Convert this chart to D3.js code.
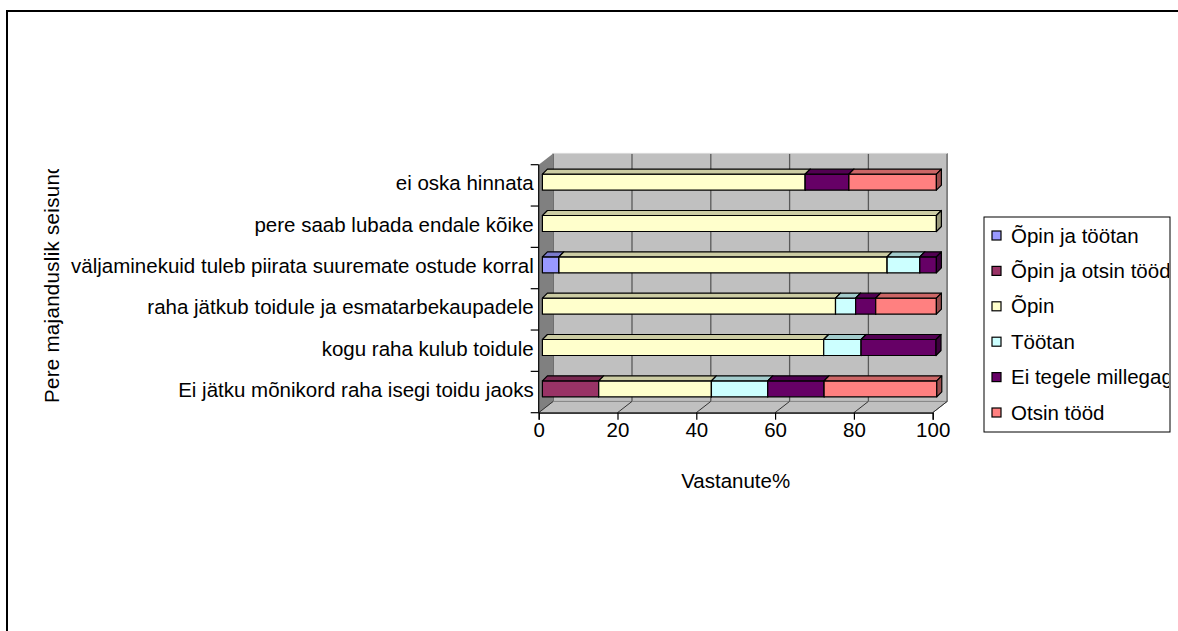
<!DOCTYPE html>
<html><head><meta charset="utf-8">
<script src="https://cdn.jsdelivr.net/npm/d3@7"></script>
<style>html,body{margin:0;padding:0;background:#fff;}svg{display:block;font-family:"Liberation Sans",Arial,sans-serif;}</style>
</head><body>
<script>
const categories = [
  "ei oska hinnata",
  "pere saab lubada endale kõike",
  "väljaminekuid tuleb piirata suuremate ostude korral",
  "raha jätkub toidule ja esmatarbekaupadele",
  "kogu raha kulub toidule",
  "Ei jätku mõnikord raha isegi toidu jaoks"
];
const seriesNames = ["Õpin ja töötan","Õpin ja otsin tööd","Õpin","Töötan","Ei tegele millegagi","Otsin tööd"];
const seriesColors = ["#9999FF","#993366","#FFFFCC","#CCFFFF","#660066","#FF8080"];
const opinJaTootan = [0, 0, 4.2, 0, 0, 0];
const opinJaOtsin  = [0, 0, 0, 0, 0, 14.3];
const opin         = [66.7, 100, 83.3, 74.4, 71.4, 28.6];
const tootan       = [0, 0, 8.3, 5.1, 9.5, 14.3];
const eiTegele     = [11.1, 0, 4.2, 5.1, 19.0, 14.3];
const otsinTood    = [22.2, 0, 0, 15.4, 0, 28.6];
const xTicks = [0, 20, 40, 60, 80, 100];
const xTitle = "Vastanute%";
const yTitle = "Pere majanduslik seisund";

const seriesValues = [opinJaTootan, opinJaOtsin, opin, tootan, eiTegele, otsinTood];
const table = categories.map((c, i) => {
  const row = {cat: c};
  seriesNames.forEach((s, j) => row[s] = seriesValues[j][i]);
  return row;
});

const W = 1178, H = 631;
const svg = d3.select("body").append("svg").attr("width", W).attr("height", H);

const x = d3.scaleLinear().domain([0, 100]).range([538.7, 932.7]);
const y = d3.scaleBand().domain(categories).range([164.7, 412.7]).padding(0);
const DX = 14.5, DY = -11.3;
const yTop = y.range()[0], yBot = y.range()[1];

// outer border (top & left visible)
svg.append("path").attr("d", `M7,${H} V11 H${W}`).attr("fill", "none").attr("stroke", "#000").attr("stroke-width", 2);

// back wall
svg.append("rect").attr("x", x(0) + DX).attr("y", yTop + DY).attr("width", x(100) - x(0)).attr("height", yBot - yTop).attr("fill", "#C0C0C0");
svg.selectAll(".grid").data(xTicks).enter().append("line")
  .attr("x1", d => x(d) + DX).attr("x2", d => x(d) + DX)
  .attr("y1", yTop + DY).attr("y2", yBot + DY)
  .attr("stroke", "#5a5a5a").attr("stroke-width", 1.3);
svg.append("line").attr("x1", x(100) + DX).attr("x2", x(100) + DX).attr("y1", yTop + DY).attr("y2", yBot + DY).attr("stroke", "#808080").attr("stroke-width", 1.5);
svg.append("line").attr("x1", x(0) + DX).attr("x2", x(100) + DX).attr("y1", yTop + DY).attr("y2", yTop + DY).attr("stroke", "#d8d8d8").attr("stroke-width", 1);

// left wall
svg.append("polygon")
  .attr("points", [[x(0), yTop], [x(0) + DX, yTop + DY], [x(0) + DX, yBot + DY], [x(0), yBot]].join(" "))
  .attr("fill", "#808080");

// floor
svg.append("polygon")
  .attr("points", [[x(0), yBot], [x(100), yBot], [x(100) + DX, yBot + DY], [x(0) + DX, yBot + DY]].join(" "))
  .attr("fill", "#C0C0C0").attr("stroke", "#808080").attr("stroke-width", 1);
svg.selectAll(".floorline").data(xTicks).enter().append("line")
  .attr("x1", d => x(d)).attr("x2", d => x(d) + DX)
  .attr("y1", yBot).attr("y2", yBot + DY)
  .attr("stroke", "#333").attr("stroke-width", 1);

// left axis line + boundary ticks
svg.append("line").attr("x1", x(0)).attr("x2", x(0)).attr("y1", yTop).attr("y2", yBot).attr("stroke", "#000").attr("stroke-width", 1.2);
const bounds = categories.map(c => y(c)).concat([yBot]);
svg.selectAll(".ytick").data(bounds).enter().append("line")
  .attr("x1", x(0) - 8).attr("x2", x(0)).attr("y1", d => d).attr("y2", d => d)
  .attr("stroke", "#000").attr("stroke-width", 1.2);

// category labels via axis
const yAxis = svg.append("g").attr("transform", `translate(${x(0)},0)`)
  .call(d3.axisLeft(y).tickSize(0).tickPadding(5));
yAxis.select(".domain").remove();
yAxis.selectAll("text").attr("font-size", 20.5).attr("fill", "#000")
  .attr("font-family", '"Liberation Sans",Arial,sans-serif').attr("dy", "0.25em");

// x axis
const xAxis = svg.append("g").attr("transform", `translate(0,${yBot})`)
  .call(d3.axisBottom(x).tickValues(xTicks).tickSize(7).tickPadding(3).tickFormat(d3.format("d")));
xAxis.select(".domain").attr("stroke", "#000").attr("stroke-width", 1.2);
xAxis.selectAll(".tick line").attr("stroke", "#000").attr("stroke-width", 1.2);
xAxis.selectAll("text").attr("font-size", 20.5).attr("fill", "#000")
  .attr("font-family", '"Liberation Sans",Arial,sans-serif');

// bars
const stack = d3.stack().keys(seriesNames)(table);
const BX = 3.7, BY = -3.2, BH = 16, DD = 5;
function shade(c, k) { const r = d3.rgb(c); return d3.rgb(r.r * k, r.g * k, r.b * k).formatHex(); }
const barsG = svg.append("g");
categories.forEach((cat, i) => {
  const yc = y(cat) + y.bandwidth() / 2 + BY;
  const y0 = yc - BH / 2, y1 = yc + BH / 2;
  stack.forEach((layer, j) => {
    const seg = layer[i];
    if (seg[1] - seg[0] <= 0.001) return;
    const xa = x(seg[0]) + BX, xb = x(seg[1]) + BX;
    const col = seriesColors[j];
    const g = barsG.append("g").attr("stroke", "#000").attr("stroke-width", 1.2).attr("stroke-linejoin", "round");
    g.append("rect").attr("x", xa).attr("y", y0).attr("width", xb - xa).attr("height", BH).attr("fill", col);
    g.append("polygon").attr("points", [[xa, y0], [xa + DD, y0 - DD], [xb + DD, y0 - DD], [xb, y0]].join(" ")).attr("fill", shade(col, 0.8));
    g.append("polygon").attr("points", [[xb, y0], [xb + DD, y0 - DD], [xb + DD, y1 - DD], [xb, y1]].join(" ")).attr("fill", shade(col, 0.6));
  });
});

// axis titles
svg.append("text").attr("x", (x(0) + x(100)) / 2).attr("y", 488).attr("text-anchor", "middle")
  .attr("font-size", 20.5).text(xTitle);
svg.append("clipPath").attr("id", "ytclip").append("rect").attr("x", 0).attr("y", 169).attr("width", 120).attr("height", 300);
svg.append("g").attr("clip-path", "url(#ytclip)").append("text")
  .attr("transform", "translate(59,403) rotate(-90)").attr("font-size", 20.5).attr("letter-spacing", 0.3).text(yTitle);

// legend
const lx = 984, ly = 217, lw = 186, lh = 215;
svg.append("rect").attr("x", lx).attr("y", ly).attr("width", lw).attr("height", lh).attr("fill", "#fff").attr("stroke", "#000").attr("stroke-width", 1);
svg.append("clipPath").attr("id", "lgclip").append("rect").attr("x", lx).attr("y", ly).attr("width", lw - 1).attr("height", lh);
const lg = svg.append("g").attr("clip-path", "url(#lgclip)");
const ls = d3.scalePoint().domain(seriesNames).range([235.5, 412.5]);
seriesNames.forEach((s, j) => {
  lg.append("rect").attr("x", 992).attr("y", ls(s) - 4.5).attr("width", 9).attr("height", 9)
    .attr("fill", seriesColors[j]).attr("stroke", "#000").attr("stroke-width", 1.2);
  lg.append("text").attr("x", 1011).attr("y", ls(s) + 7).attr("font-size", 20.5).text(s);
});
</script>
</body></html>
